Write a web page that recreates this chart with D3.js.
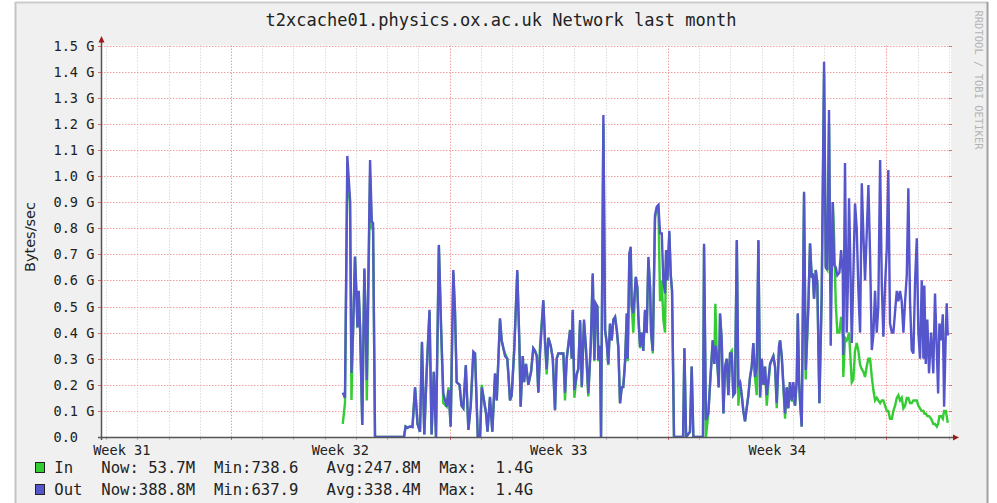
<!DOCTYPE html>
<html><head><meta charset="utf-8">
<script src="https://cdn.jsdelivr.net/npm/d3@7"></script>
<style>
body{margin:0;background:#fff}
svg{display:block}
text{font-family:"DejaVu Sans Mono",monospace;fill:#222}
</style>
</head><body><svg id="c" width="997" height="503"></svg>
<script>
// ---------------- data ----------------
const title = "t2xcache01.physics.ox.ac.uk Network last month";
const unitLabel = "Bytes/sec";
const watermark = "RRDTOOL / TOBI OETIKER";
const yTickValues = [0,0.1,0.2,0.3,0.4,0.5,0.6,0.7,0.8,0.9,1.0,1.1,1.2,1.3,1.4,1.5];
const yTickLabels = ["0.0","0.1 G","0.2 G","0.3 G","0.4 G","0.5 G","0.6 G","0.7 G","0.8 G","0.9 G","1.0 G","1.1 G","1.2 G","1.3 G","1.4 G","1.5 G"];
// time axis in hours since the left edge of the graph window
const windowHours = 653.6;
const weekStartHours = [-68, 100, 268, 436, 604];   // Monday 00:00 of weeks 31..35
const weekLabels = ["Week 31","Week 32","Week 33","Week 34"];
const dayGridOffset = 4;                          // first midnight after window start (h)

const hours = [
185.9,187.6,189.4,191.5,192.6,193.8,195.3,196.3,197.2,198.2,
199.2,200.9,202.5,203.6,204.4,206.9,208.2,209.2,210.7,233.0,
234.2,235.7,237.6,239.5,241.5,243.4,245.3,246.8,248.6,250.5,
252.6,254.2,255.9,257.6,259.8,261.5,263.2,265.8,267.2,268.9,
270.9,272.2,273.5,275.7,277.2,278.6,280.5,282.5,284.3,286.3,
287.6,289.7,291.5,292.8,294.5,296.1,297.2,299.1,300.9,303.0,
304.3,306.8,308.1,309.4,310.7,312.4,313.2,314.5,315.8,317.8,
320.1,321.7,322.7,324.3,325.3,326.8,328.6,330.7,332.4,333.7,
335.1,336.3,337.6,340.1,341.4,342.7,344.0,345.8,347.4,349.1,
350.4,351.7,354.3,355.5,356.8,358.1,360.7,362.0,362.7,364.0,
365.8,367.0,368.4,369.7,371.4,373.0,374.7,376.6,378.1,379.4,
380.4,381.7,382.4,383.7,384.5,386.3,387.6,388.9,390.1,391.4,
392.7,394.0,395.3,396.6,397.8,399.1,400.4,401.6,403.0,404.3,
405.0,406.3,407.3,408.1,409.3,411.2,412.4,413.2,414.5,415.8,
417.0,418.3,419.6,420.9,422.2,423.0,424.3,426.0,427.3,428.6,
429.9,431.2,432.4,433.7,434.5,435.5,437.0,438.1,439.1,440.6,
447.6,448.6,449.9,452.9,454.2,455.5,462.9,463.7,465.2,467.0,
468.3,470.4,471.6,472.4,473.5,475.0,476.0,477.3,478.6,479.9,
481.2,482.4,483.7,485.0,486.2,487.5,488.9,490.1,491.4,492.7,
493.9,495.2,497.8,499.1,500.4,501.6,502.9,504.2,505.5,506.8,
508.1,509.3,510.6,511.9,514.5,517.0,518.3,519.6,521.4,522.2,
523.5,526.0,527.3,528.5,529.8,531.1,532.4,533.7,535.0,535.8,
536.8,537.5,538.8,540.6,541.9,543.9,545.2,546.5,547.3,548.3,
549.6,550.8,552.4,554.2,556.0,557.3,558.5,559.8,560.6,561.1,
562.7,563.7,565.0,566.2,567.8,569.1,570.4,570.8,572.1,573.4,
574.2,575.2,576.0,577.3,578.5,579.8,581.1,582.4,583.7,585.0,
586.2,587.5,588.8,590.1,591.4,592.7,593.9,595.2,596.5,597.7,
599.1,600.4,601.6,602.9,604.2,605.4,606.7,608.1,609.3,610.6,
611.9,613.1,614.4,615.7,617.0,618.3,619.6,620.8,622.1,623.4,
624.7,626.0,627.3,628.5,629.8,631.1,632.4,633.1,634.2,635.4,
636.7,638.3,640.0,641.3,642.7,643.7,644.7,646.0,647.3,648.3,
649.6,650.3,651.1];

// Bytes/sec in G
const outG = [
0.17,0.15,1.077,0.908,0.245,0.40,0.691,0.563,0.42,0.56,
0.42,0.046,0.646,0.42,0.218,1.061,0.825,0.82,0,0,
0.04,0.035,0.04,0.038,0.19,0.05,0.02,0.365,0.01,0.26,
0.487,0.01,0.25,0,0.736,0.42,0.167,0.116,0.18,0.04,
0.64,0.48,0.21,0.2,0.12,0.11,0.276,0.027,0.12,0.327,
0.32,0.005,0.005,0.19,0.14,0.09,0.02,0.154,0.02,0.244,
0.14,0.455,0.37,0.34,0.31,0.30,0.244,0.14,0.16,0.34,
0.64,0.36,0.116,0.31,0.21,0.28,0.2,0.25,0.34,0.33,
0.31,0.17,0.32,0.525,0.37,0.26,0.38,0.35,0.30,0.103,
0.30,0.32,0.32,0.32,0.17,0.30,0.41,0.30,0.487,0.18,
0.24,0.26,0.448,0.193,0.45,0.333,0.167,0.35,0.627,0.295,
0.512,0.50,0.295,0.35,0,1.234,0.41,0.36,0.28,0.435,
0.37,0.45,0.46,0.41,0.346,0.129,0.19,0.193,0.29,0.474,
0.30,0.704,0.729,0.50,0.474,0.614,0.575,0.46,0.346,0.40,
0.33,0.487,0.40,0.69,0.575,0.40,0.33,0.85,0.882,0.889,
0.78,0.78,0.60,0.55,0.716,0.60,0.79,0.62,0.56,0,
0,0.34,0,0.02,0.27,0,0,0.74,0.065,0.09,
0.20,0.37,0.28,0.35,0.32,0.19,0.474,0.37,0.09,0.27,
0.30,0.16,0.32,0.32,0.16,0.17,0.755,0.2,0.21,0.16,
0.10,0.06,0.16,0.23,0.27,0.36,0.23,0.27,0.755,0.154,
0.30,0.2,0.27,0.16,0.28,0.31,0.27,0.13,0.35,0.37,
0.308,0.09,0.19,0.11,0.21,0.14,0.21,0.12,0.22,0.474,
0.21,0.14,0.04,0.94,0.257,0.5,0.742,0.61,0.627,0.53,
0.64,0.59,0.129,0.55,1.438,0.652,0.64,1.253,0.72,0.35,
0.90,0.66,0.65,0.62,0.63,0.716,0.62,0.314,1.05,0.40,
0.56,0.915,0.72,0.36,0.62,0.895,0.80,0.56,0.40,0.972,
0.78,0.60,0.78,0.965,0.69,0.333,0.39,0.56,0.40,0.50,
1.061,0.58,0.384,0.58,0.72,1.023,0.435,0.40,0.40,0.48,
0.56,0.52,0.56,0.52,0.40,0.52,0.62,0.953,0.52,0.333,
0.32,0.60,0.761,0.40,0.30,0.60,0.30,0.58,0.28,0.45,
0.244,0.40,0.244,0.55,0.33,0.167,0.435,0.37,0.47,0.116,
0.40,0.512,0.389];

const inG = [
0.05,0.13,1.0,0.9,0.142,0.40,0.69,0.56,0.42,0.55,
0.42,0.046,0.64,0.42,0.14,1.0,0.8,0.8,0,0,
0.04,0.035,0.04,0.038,0.19,0.05,0.02,0.36,0.01,0.26,
0.48,0.01,0.25,0,0.73,0.42,0.13,0.116,0.19,0.04,
0.63,0.48,0.21,0.2,0.12,0.11,0.27,0.027,0.12,0.32,
0.32,0.005,0.005,0.2,0.14,0.09,0.02,0.15,0.02,0.24,
0.14,0.45,0.37,0.34,0.32,0.30,0.244,0.14,0.16,0.34,
0.63,0.36,0.116,0.31,0.21,0.28,0.2,0.25,0.34,0.33,
0.31,0.17,0.35,0.52,0.37,0.24,0.38,0.35,0.30,0.103,
0.30,0.32,0.32,0.32,0.14,0.30,0.41,0.30,0.48,0.15,
0.24,0.26,0.44,0.19,0.44,0.33,0.155,0.35,0.62,0.29,
0.51,0.50,0.29,0.35,0,1.2,0.41,0.36,0.275,0.43,
0.37,0.45,0.46,0.41,0.34,0.129,0.19,0.19,0.29,0.47,
0.29,0.70,0.72,0.50,0.40,0.61,0.57,0.46,0.34,0.40,
0.33,0.48,0.40,0.68,0.57,0.40,0.32,0.84,0.87,0.88,
0.52,0.60,0.45,0.40,0.70,0.60,0.78,0.62,0.56,0,
0,0.34,0,0.02,0.27,0,0,0.73,0,0.09,
0.20,0.37,0.28,0.51,0.32,0.19,0.47,0.37,0.09,0.27,
0.30,0.16,0.32,0.33,0.16,0.17,0.75,0.12,0.21,0.16,
0.10,0.06,0.16,0.23,0.27,0.36,0.23,0.16,0.75,0.15,
0.30,0.2,0.27,0.12,0.28,0.31,0.27,0.11,0.35,0.37,
0.30,0.07,0.19,0.11,0.21,0.14,0.14,0.12,0.22,0.47,
0.21,0.14,0.04,0.93,0.22,0.5,0.74,0.61,0.62,0.53,
0.64,0.59,0.129,0.55,1.40,0.65,0.64,1.2,0.76,0.55,
0.90,0.77,0.51,0.40,0.40,0.46,0.38,0.23,0.38,0.37,
0.38,0.40,0.33,0.21,0.22,0.33,0.36,0.33,0.276,0.26,
0.25,0.23,0.27,0.30,0.30,0.23,0.18,0.14,0.15,0.14,
0.13,0.14,0.14,0.12,0.10,0.10,0.07,0.07,0.10,0.12,
0.15,0.16,0.14,0.15,0.11,0.12,0.15,0.15,0.13,0.13,
0.14,0.14,0.14,0.12,0.11,0.10,0.10,0.09,0.09,0.08,
0.08,0.07,0.05,0.05,0.04,0.05,0.08,0.08,0.07,0.10,
0.10,0.08,0.054];

const seriesNames = ["In","Out"];
const seriesColors = ["#33cc33","#5555cc"];
const legendNow = [" 53.7M","388.8M"];
const legendMin = ["738.6","637.9"];
const legendAvg = ["247.8M","338.4M"];
const legendMax = ["1.4G","1.4G"];

// ---------------- layout ----------------
const svg = d3.select("#c");
const L = 101, R = 951, T = 45.5, B = 437;
const x = d3.scaleLinear().domain([0, windowHours]).range([L, R]);
const y = d3.scaleLinear().domain([0, 1.5]).range([B, T]);

// frame
svg.append("rect").attr("x",0).attr("y",0).attr("width",997).attr("height",503).attr("fill","#fff");
svg.append("rect").attr("x",15).attr("y",2).attr("width",973).attr("height",501).attr("fill","#f0f0f0");
svg.append("line").attr("x1",15.5).attr("x2",15.5).attr("y1",2).attr("y2",503).attr("stroke","#c4c4c4").attr("stroke-width",2);
svg.append("line").attr("x1",15).attr("x2",988).attr("y1",2.5).attr("y2",2.5).attr("stroke","#cbcbcb").attr("stroke-width",2);
svg.append("line").attr("x1",987.5).attr("x2",987.5).attr("y1",2).attr("y2",503).attr("stroke","#a0a0a0").attr("stroke-width",2);

// canvas
svg.append("rect").attr("x",L).attr("y",T).attr("width",R-L).attr("height",B-T).attr("fill","#fff");

// vertical day grid
const dayHours = d3.range(dayGridOffset, windowHours, 24);
const weekSet = new Set(weekStartHours);
const gx = svg.append("g");
dayHours.forEach(h => {
  const px = Math.round(x(h)) + 0.5;
  const major = weekSet.has(h);
  gx.append("line").attr("x1",px).attr("x2",px).attr("y1",T).attr("y2",B)
    .attr("stroke", major ? "#f0a0a0" : "#dcdcdc").attr("stroke-dasharray","1.5,1.5");
  gx.append("line").attr("x1",px).attr("x2",px).attr("y1",B).attr("y2",B+3)
    .attr("stroke", major ? "#e06060" : "#b8b8b8");
});

// horizontal grid
const gy = svg.append("g");
yTickValues.forEach(v => {
  const py = Math.round(y(v)) + 0.5;
  if (v > 0) {
    gy.append("line").attr("x1",L).attr("x2",R).attr("y1",py).attr("y2",py)
      .attr("stroke","#f0a0a0").attr("stroke-dasharray","1.5,1.5");
  }
  gy.append("line").attr("x1",L-3).attr("x2",L+1).attr("y1",py).attr("y2",py).attr("stroke","#e07070");
  gy.append("line").attr("x1",R-2).attr("x2",R+1).attr("y1",py).attr("y2",py).attr("stroke","#e07070");
});

// y labels
svg.append("g").selectAll("text").data(yTickValues).join("text")
  .attr("x",53.5).attr("y",v => y(v)+5).attr("font-size","13.6px")
  .attr("xml:space","preserve").style("white-space","pre")
  .text((v,i) => yTickLabels[i]);

// x labels
svg.append("g").selectAll("text").data(weekLabels).join("text")
  .attr("x",(d,i) => x(weekStartHours[i] + 84)).attr("y",455)
  .attr("text-anchor","middle").attr("font-size","13.6px").text(d => d);

// data lines
const clip = svg.append("clipPath").attr("id","cp");
clip.append("rect").attr("x",L).attr("y",T-2).attr("width",R-L).attr("height",B-T+2);
const idx = d3.range(hours.length);
const seriesData = [inG, outG];
seriesData.forEach((vals, s) => {
  const line = d3.line().x(i => x(hours[i])).y(i => y(vals[i]));
  svg.append("path").attr("d", line(idx)).attr("fill","none")
    .attr("stroke", seriesColors[s]).attr("stroke-width",2.4)
    .attr("stroke-linejoin","miter").attr("clip-path","url(#cp)");
});

// axes
svg.append("line").attr("x1",L-3).attr("x2",R+4).attr("y1",B+0.5).attr("y2",B+0.5).attr("stroke","#555").attr("stroke-width",1.5);
svg.append("line").attr("x1",L+0.5).attr("x2",L+0.5).attr("y1",B+3).attr("y2",T-6).attr("stroke","#555").attr("stroke-width",1.5);
svg.append("path").attr("d",`M${R+2},${B-2.5}L${R+8},${B+0.5}L${R+2},${B+3.5}Z`).attr("fill","#a01818");
svg.append("path").attr("d",`M${L-2.5},${T-3}L${L+0.5},${T-9.5}L${L+3.5},${T-3}Z`).attr("fill","#a01818");

// title
svg.append("text").attr("x",501).attr("y",25.5).attr("text-anchor","middle")
  .attr("font-size","17px").text(title);

// unit label
svg.append("text").attr("transform","translate(35,237) rotate(-90)")
  .attr("text-anchor","middle").attr("font-size","14.5px")
  .style("font-family","'DejaVu Sans',sans-serif").text(unitLabel);

// watermark
svg.append("text").attr("transform","translate(974.5,80) rotate(90)")
  .attr("text-anchor","middle").attr("font-size","10.5px").style("fill","#b4b4b4")
  .text(watermark);

// legend
const lg = svg.append("g");
seriesNames.forEach((n, i) => {
  const by = 473 + i*22;
  lg.append("rect").attr("x",35.5).attr("y",by-10.5).attr("width",9).attr("height",10)
    .attr("fill",seriesColors[i]).attr("stroke","#222").attr("stroke-width",1);
  const str = n.padEnd(5," ") + "Now:" + legendNow[i] + "  Min:" + legendMin[i] + "   Avg:" + legendAvg[i] + "  Max:  " + legendMax[i];
  lg.append("text").attr("x",54.3).attr("y",by).attr("font-size","15.6px")
    .attr("xml:space","preserve").style("white-space","pre").text(str);
});
</script>
</body></html>
